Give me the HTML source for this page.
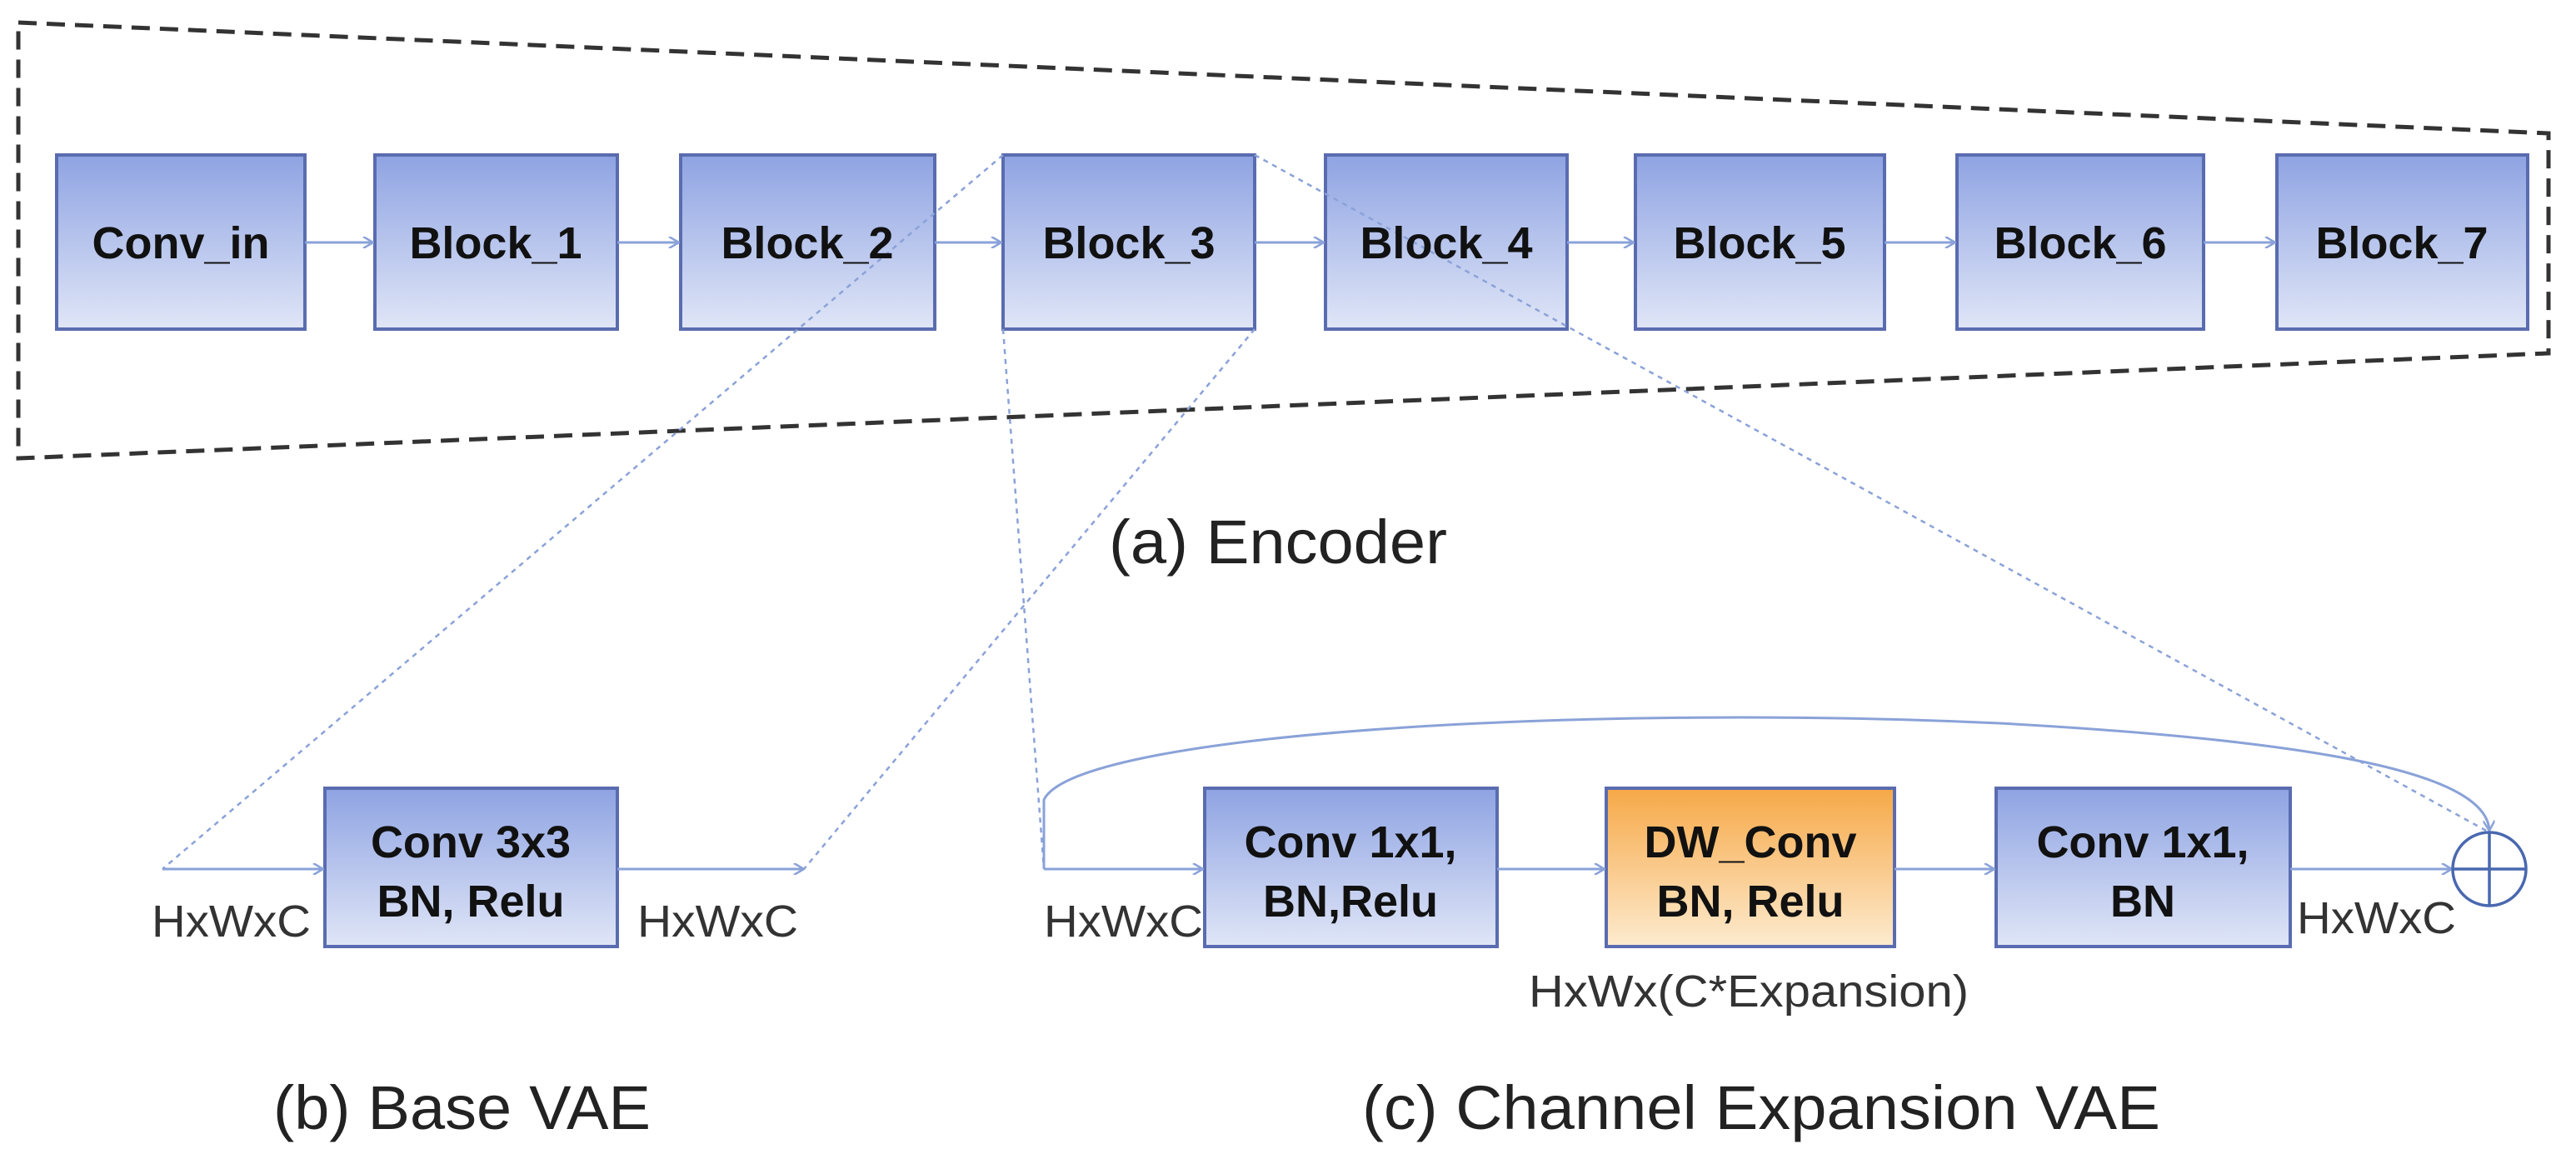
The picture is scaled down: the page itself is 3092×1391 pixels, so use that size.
<!DOCTYPE html>
<html><head><meta charset="utf-8"><style>
html,body{margin:0;padding:0;background:#fff;}
svg{display:block;}
text{font-family:"Liberation Sans",sans-serif;}
.b{font-weight:bold;font-size:54px;fill:#111;text-anchor:middle;}
.n{font-size:54px;fill:#333;}
.c{font-size:74px;fill:#222;}
</style></head><body>
<svg width="3092" height="1391" viewBox="0 0 3092 1391" xmlns="http://www.w3.org/2000/svg">
<defs>
<linearGradient id="gb" x1="0" y1="0" x2="0" y2="1"><stop offset="0" stop-color="#8ea3e2"/><stop offset="1" stop-color="#e0e6f7"/></linearGradient>
<linearGradient id="go" x1="0" y1="0" x2="0" y2="1"><stop offset="0" stop-color="#f6a847"/><stop offset="1" stop-color="#fdebcf"/></linearGradient>
<marker id="ar" markerWidth="14" markerHeight="14" refX="13" refY="7" orient="auto" markerUnits="userSpaceOnUse"><path d="M1,0 L13,7 L1,14" fill="none" stroke="#8aa2d8" stroke-width="2.5"/></marker>
</defs>
<!-- dashed encoder outline -->
<polygon points="22,27 3059,160 3059,424 22,550" fill="none" stroke="#333" stroke-width="5" stroke-dasharray="22,12"/>
<!-- encoder boxes -->
<g stroke="#5a6cb0" stroke-width="4" fill="url(#gb)">
<rect x="68" y="186" width="298" height="209"/>
<rect x="450" y="186" width="291" height="209"/>
<rect x="817" y="186" width="305" height="209"/>
<rect x="1204" y="186" width="302" height="209"/>
<rect x="1591" y="186" width="290" height="209"/>
<rect x="1963" y="186" width="299" height="209"/>
<rect x="2349" y="186" width="296" height="209"/>
<rect x="2733" y="186" width="301" height="209"/>
<rect x="390" y="946" width="351" height="190"/>
<rect x="1446" y="946" width="351" height="190"/>
<rect x="2396" y="946" width="353" height="190"/>
</g>
<rect x="1928" y="946" width="346" height="190" fill="url(#go)" stroke="#5a6cb0" stroke-width="4"/>
<!-- encoder arrows -->
<g stroke="#8aa2d8" stroke-width="3" marker-end="url(#ar)">
<line x1="366" y1="291" x2="448" y2="291"/>
<line x1="741" y1="291" x2="815" y2="291"/>
<line x1="1122" y1="291" x2="1202" y2="291"/>
<line x1="1506" y1="291" x2="1589" y2="291"/>
<line x1="1881" y1="291" x2="1961" y2="291"/>
<line x1="2262" y1="291" x2="2347" y2="291"/>
<line x1="2645" y1="291" x2="2731" y2="291"/>
<line x1="195" y1="1043" x2="388" y2="1043"/>
<line x1="741" y1="1043" x2="965" y2="1043"/>
<line x1="1253" y1="1043" x2="1444" y2="1043"/>
<line x1="1797" y1="1043" x2="1926" y2="1043"/>
<line x1="2274" y1="1043" x2="2394" y2="1043"/>
<line x1="2749" y1="1043" x2="2943" y2="1043"/>
<path d="M1253,1043 L1253,960 C1290,880 1900,845 2400,868 C2800,890 2985,930 2988,997" fill="none"/>
</g>
<!-- dotted zoom lines -->
<g stroke="#8aa2d8" stroke-width="2.5" stroke-dasharray="6,6" fill="none">
<line x1="1204" y1="186" x2="195" y2="1043"/>
<line x1="1506" y1="395" x2="965" y2="1043"/>
<line x1="1204" y1="395" x2="1253" y2="1043"/>
<line x1="1506" y1="186" x2="2988" y2="999"/>
</g>
<!-- plus circle -->
<g stroke="#4a68b0" stroke-width="3.5" fill="none">
<circle cx="2988" cy="1043" r="44"/>
<line x1="2944" y1="1043" x2="3032" y2="1043"/>
<line x1="2988" y1="999" x2="2988" y2="1087"/>
</g>
<!-- box labels -->
<text class="b" x="217" y="310">Conv_in</text>
<text class="b" x="595" y="310">Block_1</text>
<text class="b" x="969" y="310">Block_2</text>
<text class="b" x="1355" y="310">Block_3</text>
<text class="b" x="1736" y="310">Block_4</text>
<text class="b" x="2112" y="310">Block_5</text>
<text class="b" x="2497" y="310">Block_6</text>
<text class="b" x="2883" y="310">Block_7</text>
<text class="b" x="565" y="1029">Conv  3x3</text>
<text class="b" x="565" y="1100">BN, Relu</text>
<text class="b" x="1621" y="1029">Conv 1x1,</text>
<text class="b" x="1621" y="1100">BN,Relu</text>
<text class="b" x="2101" y="1029">DW_Conv</text>
<text class="b" x="2101" y="1100">BN, Relu</text>
<text class="b" x="2572" y="1029">Conv 1x1,</text>
<text class="b" x="2572" y="1100">BN</text>
<!-- small labels -->
<text class="n" x="182" y="1124" textLength="191" lengthAdjust="spacingAndGlyphs">HxWxC</text>
<text class="n" x="765" y="1124" textLength="193" lengthAdjust="spacingAndGlyphs">HxWxC</text>
<text class="n" x="1253" y="1124" textLength="191" lengthAdjust="spacingAndGlyphs">HxWxC</text>
<text class="n" x="2757" y="1120" textLength="191" lengthAdjust="spacingAndGlyphs">HxWxC</text>
<text class="n" x="1835" y="1208" textLength="528" lengthAdjust="spacingAndGlyphs">HxWx(C*Expansion)</text>
<!-- captions -->
<text class="c" x="1331" y="676" textLength="406" lengthAdjust="spacingAndGlyphs">(a) Encoder</text>
<text class="c" x="328" y="1355" textLength="453" lengthAdjust="spacingAndGlyphs">(b) Base VAE</text>
<text class="c" x="1635" y="1355" textLength="958" lengthAdjust="spacingAndGlyphs">(c) Channel Expansion VAE</text>
</svg>
</body></html>
